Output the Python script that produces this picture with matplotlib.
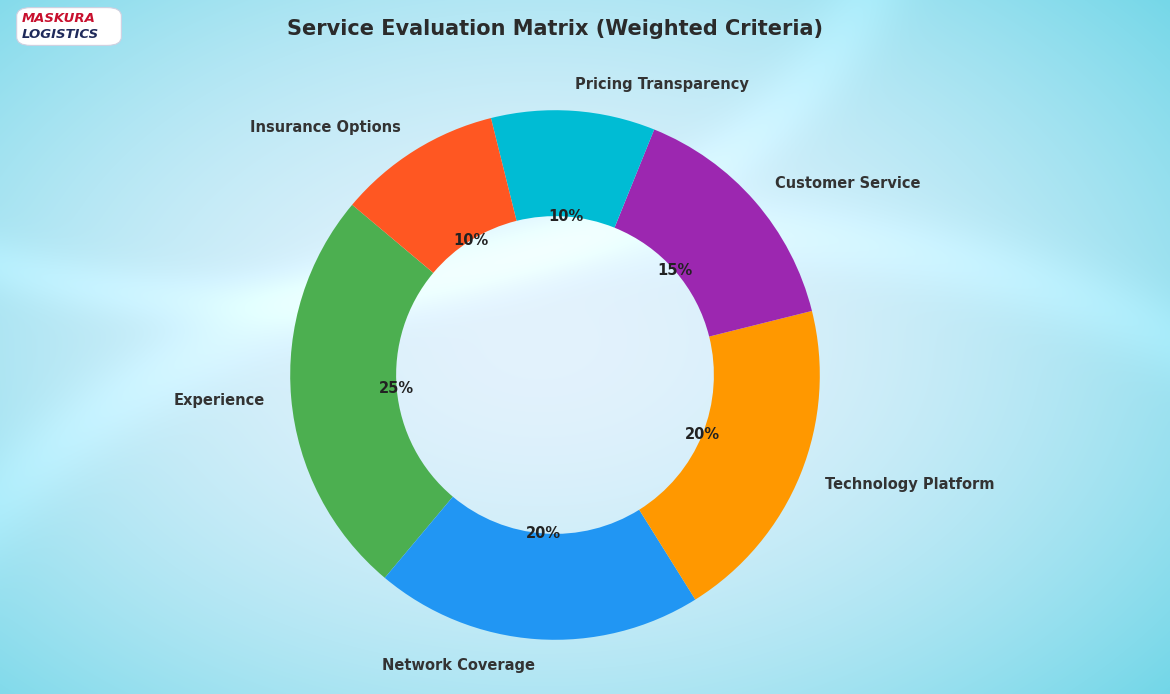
import numpy as np
import matplotlib
matplotlib.use("Agg")
import matplotlib.pyplot as plt
from matplotlib.patches import FancyBboxPatch

# data
criteria = ["Experience", "Network Coverage", "Technology Platform",
            "Customer Service", "Pricing Transparency", "Insurance Options"]
weights = [25, 20, 20, 15, 10, 10]
colors = ["#4CAF50", "#2196F3", "#FF9800", "#9C27B0", "#00BCD4", "#FF5722"]

W, H = 1170, 694
fig = plt.figure(figsize=(W / 100, H / 100), dpi=100)

# background: soft cyan radial gradient
bg = fig.add_axes([0, 0, 1, 1])
yy, xx = np.mgrid[0:H, 0:W]
r = np.sqrt(((xx - 540) / 700.0) ** 2 + ((yy - 340) / 460.0) ** 2)
t = np.clip(r, 0, 1.25) / 1.25
c_in = np.array([0.89, 0.95, 0.99])
c_out = np.array([0.40, 0.83, 0.90])
img = c_in[None, None, :] * (1 - t[..., None] ** 1.8) + c_out[None, None, :] * (t[..., None] ** 1.8)
# faint swirl bands
band = np.exp(-((np.sqrt(((xx - 700) / 900.0) ** 2 + ((yy - 950) / 720.0) ** 2) - 1.0) / 0.05) ** 2)
band2 = np.exp(-((np.sqrt(((xx - 250) / 650.0) ** 2 + ((yy + 150) / 450.0) ** 2) - 1.0) / 0.06) ** 2)
img = np.clip(img + 0.04 * (band + band2)[..., None], 0, 1)
bg.imshow(img, extent=[0, W, H, 0], aspect="auto", interpolation="bilinear")
bg.set_xlim(0, W)
bg.set_ylim(H, 0)
bg.axis("off")

# donut
ax = fig.add_axes([224 / W, -12 / H, 662 / W, 662 / H])
wedges, texts, autotexts = ax.pie(
    weights, labels=criteria, colors=colors, startangle=140,
    autopct="%1.0f%%", pctdistance=0.6, labeldistance=1.1,
    wedgeprops=dict(width=0.4, edgecolor="none"),
    textprops=dict(fontsize=10.5, fontweight="bold", color="#333333"))
for t_ in autotexts:
    t_.set_color("#222222")
ax.set_aspect("equal")

fig.text(555 / W, 1 - 29 / H, "Service Evaluation Matrix (Weighted Criteria)",
         ha="center", va="center", fontsize=15, fontweight="bold", color="#2b2b2b")

# logo
logo = FancyBboxPatch((19 / W, 1 - 44 / H), 100 / W, 35 / H,
                      boxstyle="round,pad=0.002,rounding_size=0.012",
                      transform=fig.transFigure, facecolor="white",
                      edgecolor="#d0d0e0", linewidth=0.8, zorder=5)
fig.patches.append(logo)
fig.text(22 / W, 1 - 19 / H, "MASKURA", fontsize=9.5, fontweight="bold",
         style="italic", color="#c8102e", va="center", zorder=6)
fig.text(22 / W, 1 - 34 / H, "LOGISTICS", fontsize=9.5, fontweight="bold",
         style="italic", color="#1f2a5a", va="center", zorder=6)

fig.savefig("out.png", dpi=100)
